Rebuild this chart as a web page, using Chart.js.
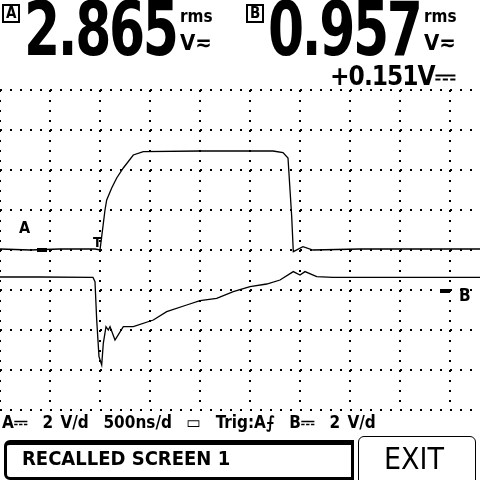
<!DOCTYPE html>
<html>
<head>
<meta charset="utf-8">
<script src="https://cdn.jsdelivr.net/npm/chart.js@4/dist/chart.umd.min.js"></script>
<style>
  html, body { margin: 0; padding: 0; background: #fff; }
  #wrap { position: relative; width: 480px; height: 480px; overflow: hidden;
          font-family: "DejaVu Sans Condensed", "DejaVu Sans", sans-serif; font-weight: bold; color: #000; }
  canvas { position: absolute; left: 0; top: 0; }
  .t { position: absolute; white-space: pre; line-height: 1; }
  .big { font-size: 74px; letter-spacing: -3px; transform: scaleX(0.78); transform-origin: left top; }
  .box { position: absolute; border: 2px solid #000; font-size: 15px; line-height: 15px; padding: 0 2px; }
  .bar { position: absolute; background: #000; }
</style>
</head>
<body>
<div id="wrap">
  <canvas id="scope" width="480" height="480"></canvas>

  <div class="box" style="left:2px;top:4px;">A</div>
  <div class="t big" style="left:24px;top:-8px;">2.865</div>
  <div class="t" style="left:180px;top:8px;font-size:17px;">rms</div>
  <div class="t" style="left:180px;top:32px;font-size:22px;">V≂</div>

  <div class="box" style="left:246px;top:4px;">B</div>
  <div class="t big" style="left:268px;top:-8px;">0.957</div>
  <div class="t" style="left:424px;top:8px;font-size:17px;">rms</div>
  <div class="t" style="left:424px;top:32px;font-size:22px;">V≂</div>
  <div class="t" style="left:330px;top:63px;font-size:26px;letter-spacing:-1px;">+0.151V⎓</div>

  <div class="t" style="left:19px;top:220px;font-size:16px;">A</div>
  <div class="bar" style="left:37px;top:248px;width:10px;height:4px;"></div>
  <div class="t" style="left:93px;top:235px;font-size:14px;">T</div>
  <div class="bar" style="left:440px;top:289px;width:10px;height:4px;"></div>
  <div class="t" style="left:459px;top:287px;font-size:17px;">B</div>

  <div class="t" style="left:2px;top:414px;font-size:17px;word-spacing:2px;">A⎓  2 V/d  500ns/d  ▭  Trig:A⨍  B⎓  2 V/d</div>

  <div style="position:absolute;left:4px;top:440px;width:344px;height:32px;border:3px solid #000;border-top-width:5px;border-radius:6px 0 0 6px;"></div>
  <div class="t" style="left:22px;top:448px;font-size:20px;">RECALLED SCREEN 1</div>
  <div style="position:absolute;left:358px;top:436px;width:116px;height:48px;border:1.5px solid #000;border-radius:6px;"></div>
  <div class="t" style="left:384px;top:444px;font-size:30px;font-weight:normal;">EXIT</div>
</div>

<script>
// time in ns (500 ns/div), volts (2 V/div), same scale for both channels
const timeA = [0, 300, 600, 950, 1000, 1017, 1050, 1067, 1117, 1167, 1233, 1333, 1433, 2000, 2730, 2830, 2880, 2917, 2933, 3030, 3130, 3600, 4200, 4800];
const voltA = [0.05, 0.0, 0.05, 0.05, 0.0, 0.67, 2.0, 2.5, 3.1, 3.6, 4.1, 4.75, 4.92, 4.95, 4.95, 4.87, 4.6, 1.67, -0.08, 0.17, 0.0, 0.05, 0.05, 0.05];

const timeB = [0, 400, 930, 950, 967, 990, 1017, 1033, 1060, 1083, 1100, 1150, 1233, 1333, 1533, 1667, 1867, 2000, 2167, 2333, 2500, 2667, 2800, 2933, 3000, 3050, 3167, 3330, 4000, 4800];
const voltB = [-1.35, -1.35, -1.37, -1.58, -3.5, -5.33, -5.75, -4.67, -3.83, -4.0, -3.83, -4.5, -3.83, -3.83, -3.5, -3.08, -2.75, -2.53, -2.42, -2.08, -1.83, -1.7, -1.5, -1.08, -1.25, -1.08, -1.33, -1.37, -1.37, -1.37];

// grid divisions
const xTicks = [0, 500, 1000, 1500, 2000, 2500, 3000, 3500, 4000, 4500];
const yTicks = [-8, -6, -4, -2, 0, 2, 4, 6, 8];

const toPts = (xs, ys) => xs.map((x, i) => ({ x, y: ys[i] }));

const dotted = { color: "#000", lineWidth: 2, tickLength: 0 };

new Chart(document.getElementById("scope"), {
  type: "line",
  data: {
    datasets: [
      { data: toPts(timeA, voltA), borderColor: "#000", borderWidth: 1.3, pointRadius: 0, tension: 0 },
      { data: toPts(timeB, voltB), borderColor: "#000", borderWidth: 1.3, pointRadius: 0, tension: 0 }
    ]
  },
  options: {
    responsive: false,
    animation: false,
    layout: { padding: { left: 0, right: 0, top: 90, bottom: 70 } },
    plugins: { legend: { display: false }, tooltip: { enabled: false } },
    scales: {
      x: {
        type: "linear", min: 0, max: 4800,
        afterFit: s => { s.height = 0; s.paddingLeft = 0; s.paddingRight = 0; },
        afterBuildTicks: s => { s.ticks = xTicks.map(v => ({ value: v })); },
        ticks: { display: false },
        grid: dotted, border: { display: false, dash: [2, 8] }
      },
      y: {
        min: -8, max: 8,
        afterFit: s => { s.width = 0; },
        afterBuildTicks: s => { s.ticks = yTicks.map(v => ({ value: v })); },
        ticks: { display: false },
        grid: dotted, border: { display: false, dash: [2, 8] }
      }
    }
  }
});
</script>
</body>
</html>
